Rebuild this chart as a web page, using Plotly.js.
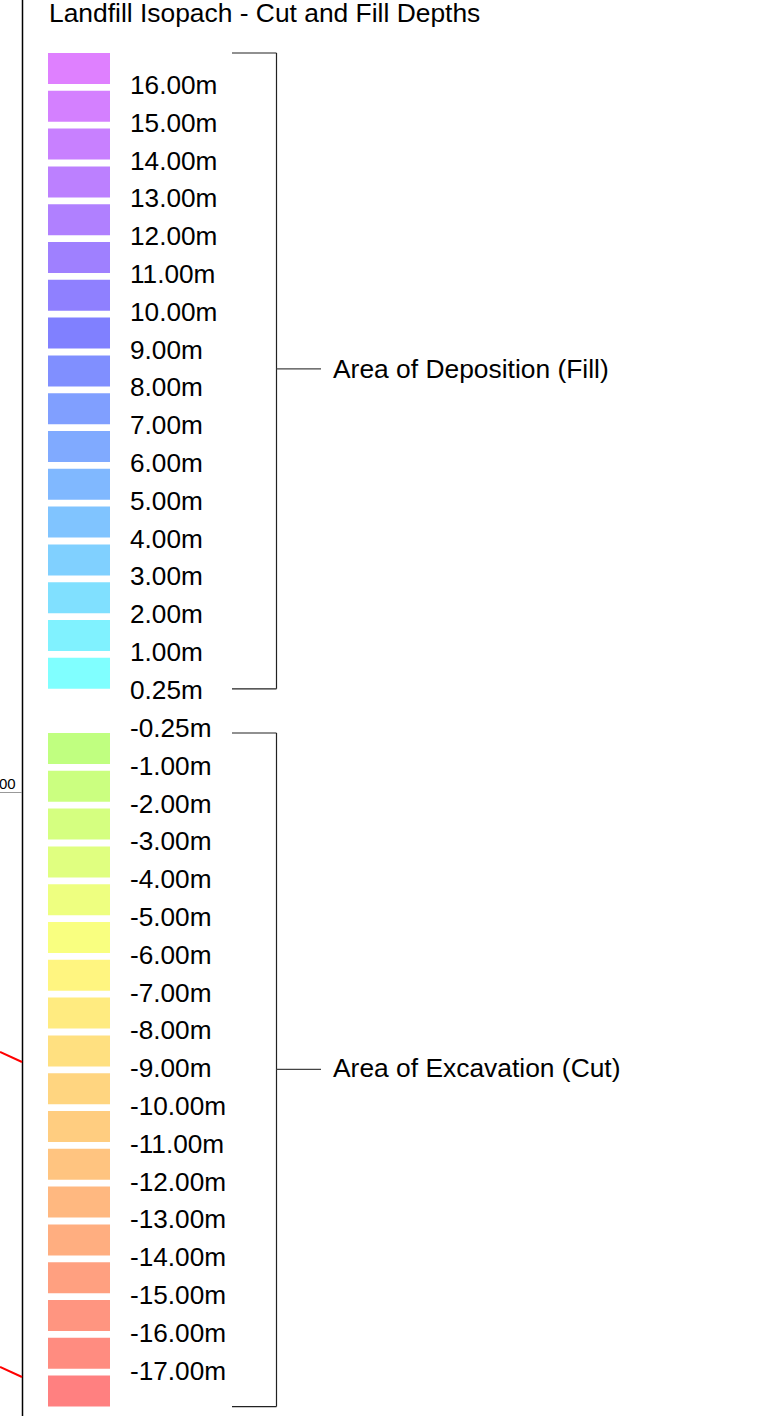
<!DOCTYPE html>
<html>
<head>
<meta charset="utf-8">
<script src="https://cdn.plot.ly/plotly-3.0.1.min.js"></script>
<style>html,body{margin:0;padding:0;background:#fff;}#chart{width:764px;height:1416px;}</style>
</head>
<body>
<div id="chart"></div>
<script>
// ---- data ----
const titleText = 'Landfill Isopach - Cut and Fill Depths';
const fillLabels = ['16.00m','15.00m','14.00m','13.00m','12.00m','11.00m','10.00m','9.00m','8.00m','7.00m','6.00m','5.00m','4.00m','3.00m','2.00m','1.00m','0.25m'];
const fillColors = ['#DF80FF','#D480FF','#C880FF','#BC80FF','#B080FF','#9F80FF','#8F80FF','#8080FF','#808FFF','#809FFF','#80AAFF','#80B8FF','#80C4FF','#80D0FF','#80E0FF','#80F2FF','#80FFFF'];
const cutLabels = ['-0.25m','-1.00m','-2.00m','-3.00m','-4.00m','-5.00m','-6.00m','-7.00m','-8.00m','-9.00m','-10.00m','-11.00m','-12.00m','-13.00m','-14.00m','-15.00m','-16.00m','-17.00m'];
const cutColors = ['#C0FF80','#CBFF80','#D5FF80','#E0FF80','#EEFF80','#F9FF80','#FFF580','#FFEB80','#FFE080','#FFD580','#FFCD80','#FFC480','#FFB880','#FFAE80','#FFA080','#FF9580','#FF8C80','#FF8080'];
const groupNames = ['Area of Deposition (Fill)', 'Area of Excavation (Cut)'];
const mapFragmentLabel = '00';

// ---- layout constants (pixel space) ----
const W = 764, H = 1416;
const pitch = 37.8, swH = 31, swX = 48, swW = 62;
const fillTop = 53, cutTop = 733;
const labelX = 130, groupX = 333;
const FONT = '"Liberation Sans", Arial, sans-serif';

const fillY = fillLabels.map((_, i) => fillTop + swH / 2 + pitch * i);
const cutY = cutColors.map((_, i) => cutTop + swH / 2 + pitch * i);
const fillLabelY = fillLabels.map((_, i) => fillTop + swH + pitch * i + 3.5);
const cutLabelY = cutLabels.map((_, i) => cutTop - 2.5 + pitch * i);

const fillEnd = fillTop + pitch * (fillLabels.length - 1) + swH;
const cutEnd = cutTop + pitch * (cutColors.length - 1) + swH;
const fillMid = (fillTop + fillEnd) / 2;
const cutMid = (cutTop + cutEnd) / 2;

const traces = [
  {type:'bar', orientation:'h', y: fillY, x: fillColors.map(() => swW), base: swX, width: swH,
   marker:{color: fillColors, line:{width:0}}, hoverinfo:'skip'},
  {type:'bar', orientation:'h', y: cutY, x: cutColors.map(() => swW), base: swX, width: swH,
   marker:{color: cutColors, line:{width:0}}, hoverinfo:'skip'},
  {type:'scatter', mode:'text', x: fillLabels.map(() => labelX), y: fillLabelY, text: fillLabels,
   textposition:'middle right', textfont:{family: FONT, size: 26.2, color:'#000'}, hoverinfo:'skip'},
  {type:'scatter', mode:'text', x: cutLabels.map(() => labelX), y: cutLabelY, text: cutLabels,
   textposition:'middle right', textfont:{family: FONT, size: 26.2, color:'#000'}, hoverinfo:'skip'},
  {type:'scatter', mode:'text', x: groupNames.map(() => groupX), y: [fillMid + 0.5, cutMid + 1], text: groupNames,
   textposition:'middle right', textfont:{family: FONT, size: 26.4, color:'#000'}, hoverinfo:'skip'}
];

function ln(x0, y0, x1, y1, color, width) {
  return {type:'line', xref:'x', yref:'y', x0, y0, x1, y1, line:{color, width}};
}
const bx0 = 232, bx1 = 276.5, tickX = 321;
const shapes = [
  // fill bracket
  ln(bx0, fillTop, bx1, fillTop, '#222', 1.2),
  ln(bx1, fillTop, bx1, fillEnd, '#222', 1.2),
  ln(bx0, fillEnd, bx1, fillEnd, '#222', 1.2),
  ln(bx1, fillMid - 2, tickX, fillMid - 2, '#444', 1.2),
  // cut bracket
  ln(bx0, cutTop, bx1, cutTop, '#222', 1.2),
  ln(bx1, cutTop, bx1, cutEnd, '#222', 1.2),
  ln(bx0, cutEnd, bx1, cutEnd, '#222', 1.2),
  ln(bx1, cutMid - 0.5, tickX, cutMid - 0.5, '#444', 1.2),
  // map fragment at left edge
  ln(22.5, 0, 22.5, H, '#000', 1.5),
  ln(0, 792.5, 22, 792.5, '#999', 1),
  ln(0, 1052, 22, 1062, '#ff0000', 2),
  ln(0, 1367, 22, 1377, '#ff0000', 2)
];

const layout = {
  width: W, height: H,
  margin:{l:0, r:0, t:0, b:0, pad:0},
  paper_bgcolor:'#fff', plot_bgcolor:'#fff',
  showlegend:false, barmode:'overlay',
  title:{text: titleText, x: 49 / W, xanchor:'left', xref:'container', y: 1 - 13 / H, yref:'container', yanchor:'middle',
         font:{family: FONT, size: 26.4, color:'#000'}},
  xaxis:{range:[0, W], visible:false, fixedrange:true},
  yaxis:{range:[H, 0], visible:false, fixedrange:true},
  shapes: shapes,
  annotations:[
    {text: mapFragmentLabel, xref:'x', yref:'y', x: 17.5, y: 783, xanchor:'right', yanchor:'middle', showarrow:false,
     font:{family: FONT, size: 15, color:'#000'}}
  ]
};

Plotly.newPlot('chart', traces, layout, {staticPlot:true, displayModeBar:false});
</script>
</body>
</html>
